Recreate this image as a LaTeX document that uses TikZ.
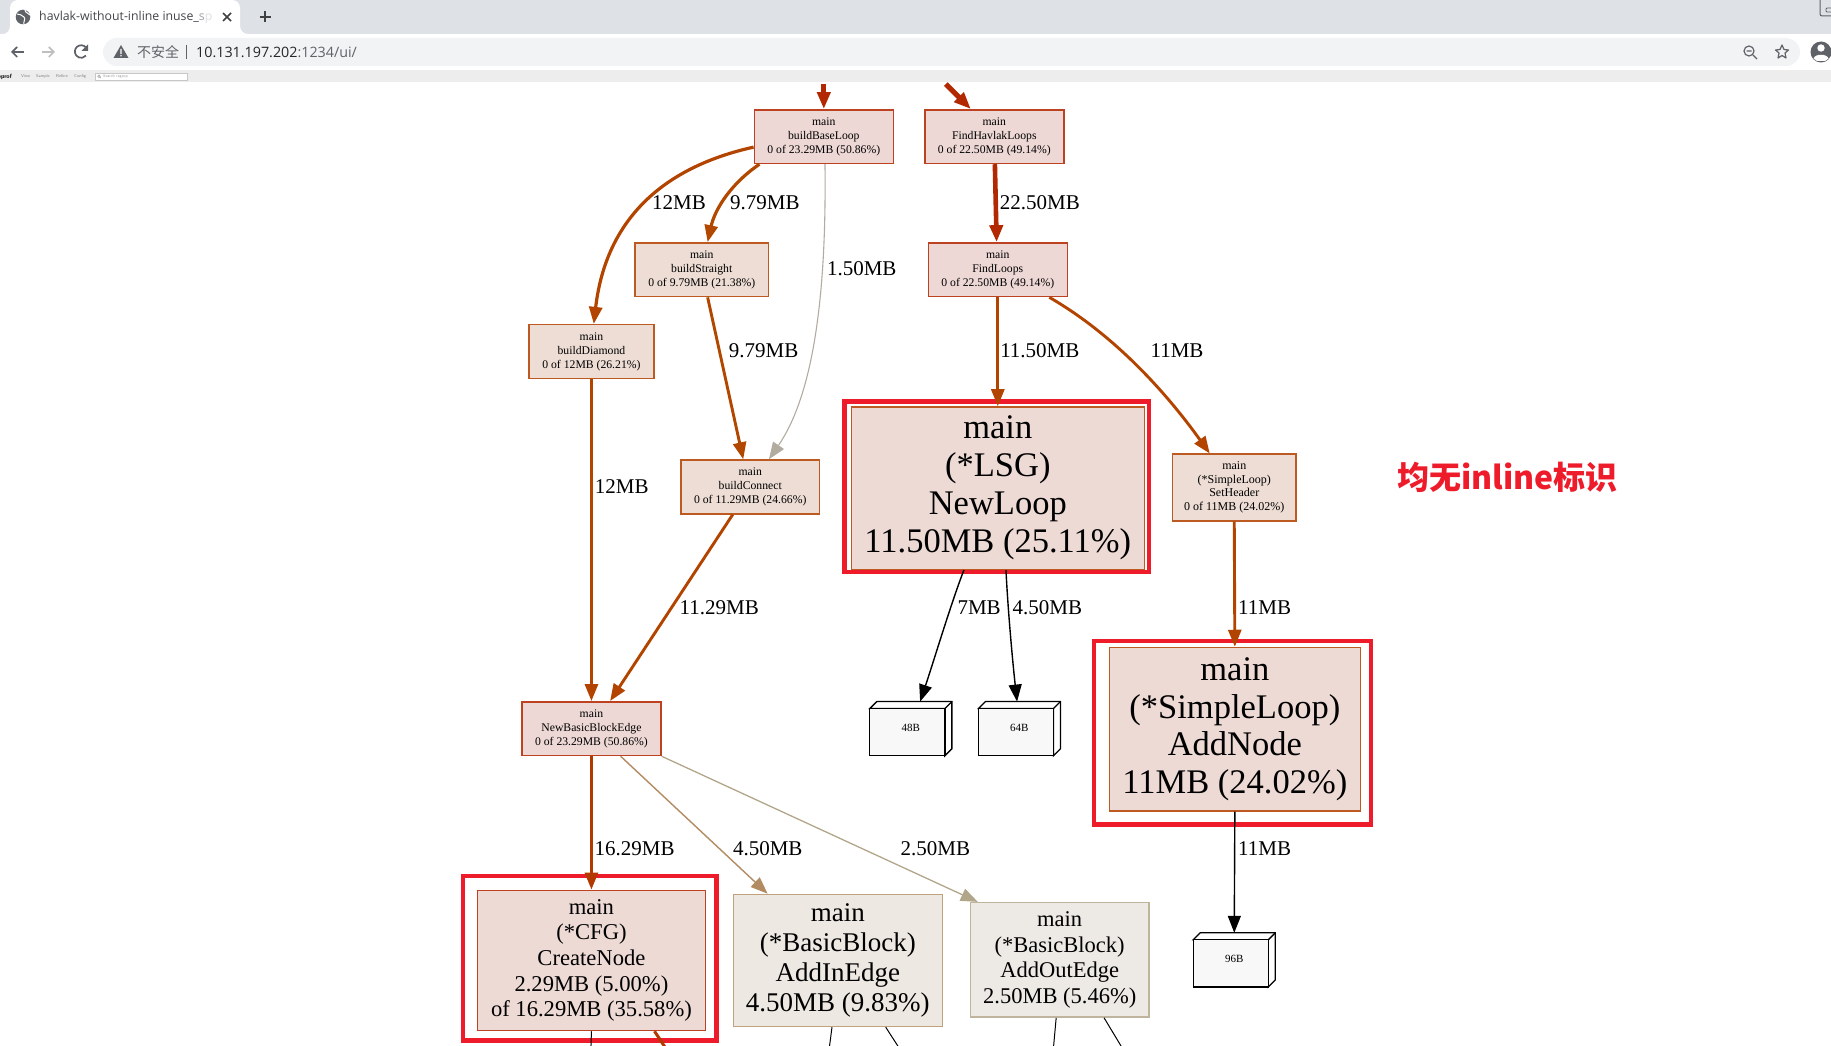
\documentclass[tikz,border=0pt]{standalone}
\usepackage{fontspec}
\setmainfont{Liberation Serif}
\newfontfamily\uifont{Open Sans}
\newfontfamily\cjkfont{Noto Sans CJK SC}
\usetikzlibrary{arrows.meta,calc}

\definecolor{tabbar}{HTML}{DEE1E6}
\definecolor{omnibox}{HTML}{F1F3F4}
\definecolor{chromegrey}{HTML}{5F6368}
\definecolor{markred}{HTML}{EE1C2B}
% Heat colours of the graph: edges, borders, then fills
\definecolor{heatA}{HTML}{B22800}
\definecolor{heatB}{HTML}{B23A00}
\definecolor{heatC}{HTML}{B24400}
\definecolor{heatD}{HTML}{B24800}
\definecolor{heatE}{HTML}{B28B62}
\definecolor{heatF}{HTML}{B2A68A}
\definecolor{heatG}{HTML}{B2ABA0}
\definecolor{edgeA}{HTML}{BC4222}
\definecolor{edgeC}{HTML}{BC5A22}
\definecolor{edgeE}{HTML}{C0A27C}
\definecolor{edgeF}{HTML}{BFB49E}
\definecolor{fillA}{HTML}{EDD8D5}
\definecolor{fillB}{HTML}{EDDAD5}
\definecolor{fillC}{HTML}{EDDDD5}
\definecolor{fillE}{HTML}{EDE8E2}
\definecolor{fillF}{HTML}{EDEAE6}
\definecolor{cubefill}{HTML}{F8F8F8}

\newcommand{\fsize}[2]{\fontsize{#1}{#2}\selectfont}
% Cube faces drawn around a named node; the front face sits low and to the left
\newcommand{\cubefaces}[1]{%
  \draw[cubeline,fill=white] (#1.north west) ++(0,6) -- ++(6,-6) -| ($(#1.south east)+(0,-6)$) -- ++(-6,6)
    |- cycle;
  \draw[cubeline,fill=cubefill] ($(#1.north west)+(0,6)$) rectangle ($(#1.south east)+(-6,0)$);
  \draw[cubeline] ($(#1.north east)+(-6,6)$) -- (#1.north east);
}

\tikzset{
  gbox/.style 2 args={draw,rectangle,align=center,inner sep=0pt,line width=1.5pt,
    minimum width=#1*1.1677pt,minimum height=#2*1.1677pt},
  small/.style={font=\fsize{11.7}{14}},
  marker/.style 2 args={draw=markred,rectangle,line width=4.5pt,inner sep=0pt,
    minimum width=#1*1.1677pt,minimum height=#2*1.1677pt},
  cube/.style={rectangle,inner sep=0pt,minimum width=70*1.1677pt,minimum height=46*1.1677pt,font=\fsize{11}{12}},
  cubeline/.style={draw=black,line width=1.3pt},
  elabel/.style={font=\fsize{21}{24},inner sep=0pt},
  flow/.style 2 args={draw=#1,line width=#2,-{Triangle[length=17pt,width=13pt]}},
  stub/.style 2 args={draw=#1,line width=#2},
  chromeicon/.style={draw=chromegrey,line width=1.7pt},
}

\begin{document}
\begin{tikzpicture}[x=1pt,y=-1pt]
\useasboundingbox (0,0) rectangle (1831,1046);
\clip (0,0) rectangle (1831,1046);

% Browser tab strip
\fill[tabbar] (0,0) rectangle (1831,34);
\fill[white] (0,34) -- (3,34) to[out=0,in=270] (10,26) -- (10,8) to[out=90,in=180] (18,0) -- (232,0)
  to[out=0,in=90] (240,8) -- (240,26) to[out=270,in=180] (248,34) -- cycle;
\node[anchor=west,inner sep=0pt,text=chromegrey!70!black,font=\uifont\fsize{12.3}{15}] (tabtitle) at (39,17.5)
  {havlak-without-inline inuse\_{\color{chromegrey!60}s}{\color{chromegrey!20}p}};
\fill[chromegrey] (23,17) circle (7.3);
\draw[white,line width=1pt] (17,14) .. controls (20,13) and (21,16) .. (24,17) .. controls (26,19) and (23,22) .. (24,24);
\draw[white,line width=1pt] (25,10) .. controls (25,13) and (29,13) .. (30,15);
\draw[black!75,line width=1.6pt] (223,13) -- (231,21) (231,13) -- (223,21);
\draw[black!75,line width=1.6pt] (259.5,17) -- (270.5,17) (265,11.5) -- (265,22.5);
\draw[chromegrey,line width=1pt,rounded corners=2pt] (1832,16) -- (1820,16) -- (1820,0);
\draw[chromegrey,line width=.8pt,rounded corners=1pt] (1832,8) -- (1826,8) -- (1826,12) -- (1832,12);

% Toolbar and address field
\fill[white] (0,34) rectangle (1831,70);
\fill[omnibox,rounded corners=14pt] (103,38) rectangle (1800,66);
\draw[chromeicon,-{Straight Barb[length=5pt,width=10pt]}] (24,52) -- (11,52);
\draw[chromeicon,draw=black!25,-{Straight Barb[length=5pt,width=10pt]}] (42,52) -- (55,52);
\draw[chromeicon] (86,47.5) arc[start angle=-40,end angle=-320,radius=6.3];
\fill[chromegrey] (88,44.5) -- (88,51) -- (81.5,51) -- cycle;
\fill[chromegrey] (121,45) -- (128.5,58) -- (113.5,58) -- cycle;
\fill[white] (120.4,49) rectangle (121.6,54) (120.4,55) rectangle (121.6,56.5);
\node[anchor=west,inner sep=0pt,text=chromegrey,font=\cjkfont\fsize{14}{16}] (insecure) at (137,52) {不安全};
\draw[chromegrey,line width=.8pt] (186,45) -- (186,59);
\node[anchor=west,inner sep=0pt,font=\uifont\fsize{14.3}{16}] (address) at (196,52.5)
  {\color{black!85}10.131.197.202\color{chromegrey}:1234/ui/};
\draw[chromegrey,line width=1.2pt] (1749,51) circle (5);
\draw[chromegrey,line width=1.2pt] (1746.5,51) -- (1751.5,51) (1753,55) -- (1757,59);
\draw[chromegrey,line width=1.2pt,line join=round] (1782,45) -- (1784,49.5) -- (1788.5,50) -- (1785,53) -- (1786,58)
  -- (1782,55.5) -- (1778,58) -- (1779,53) -- (1775.5,50) -- (1780,49.5) -- cycle;
\fill[chromegrey] (1821,52) circle (10.5);
\fill[white] (1821,48) circle (3.7);
\fill[white] (1813.5,58.5) .. controls (1815,53.5) and (1827,53.5) .. (1828.5,58.5) -- (1825,61) -- (1817,61) -- cycle;

% Page menu bar
\draw[black!15,line width=.8pt] (0,70) -- (1831,70);
\fill[black!7] (0,70.4) rectangle (1831,82);
\node[anchor=west,inner sep=0pt,font=\sffamily\bfseries\fsize{6}{7}] (brand) at (-2.5,76.5) {pprof};
\foreach \mx/\mt in {21/View,36/Sample,56/Refine,74/Config}
  \node[anchor=west,inner sep=0pt,text=black!50,font=\sffamily\fsize{4.2}{5}] at (\mx,76.5) {\mt};
\draw[black!22,fill=white,line width=.6pt] (95,73) rectangle (187,80.5);
\draw[black!45,line width=.4pt] (99,76.2) circle (1.3) (100,77.2) -- (101,78.2);
\node[anchor=west,inner sep=0pt,text=black!40,font=\sffamily\fsize{4}{5}] (searchbox) at (103,76.8) {Search regexp};

% Call graph, placed on a 1568-wide grid
\begin{scope}[x=1.1677pt,y=-1.1677pt]
  % Red highlight frames
  \node[marker={261}{146}] (frameloop) at (853.5,417) {};
  \node[marker={237}{157}] (framenode) at (1055.5,627.5) {};
  \node[marker={217}{141}] (framecfg) at (505,820.5) {};

  % Function boxes
  \node[gbox={119}{46},small,draw=edgeA,fill=fillA] (bbl) at (705.5,117)
    {main\\buildBaseLoop\\0 of 23.29MB (50.86\%)};
  \node[gbox={119}{46},small,draw=edgeA,fill=fillA] (havlak) at (851.5,117)
    {main\\FindHavlakLoops\\0 of 22.50MB (49.14\%)};
  \node[gbox={114}{46},small,draw=edgeC,fill=fillC] (straight) at (601,231)
    {main\\buildStraight\\0 of 9.79MB (21.38\%)};
  \node[gbox={119}{46},small,draw=edgeA,fill=fillA] (findloops) at (854.5,231)
    {main\\FindLoops\\0 of 22.50MB (49.14\%)};
  \node[gbox={107}{46},small,draw=edgeC,fill=fillC] (diamond) at (506.5,301)
    {main\\buildDiamond\\0 of 12MB (26.21\%)};
  \node[gbox={119}{46},small,draw=edgeC,fill=fillC] (connect) at (642.5,417)
    {main\\buildConnect\\0 of 11.29MB (24.66\%)};
  \node[gbox={251}{139},draw=edgeC,fill=fillB,font=\fsize{34.5}{38}] (newloop) at (854.5,418)
    {main\\(*LSG)\\NewLoop\\11.50MB (25.11\%)};
  \node[gbox={106}{57},font=\fsize{12}{13.5},draw=edgeC,fill=fillC] (setheader) at (1057,417.5)
    {main\\(*SimpleLoop)\\SetHeader\\0 of 11MB (24.02\%)};
  \node[gbox={215}{140},draw=edgeC,fill=fillB,font=\fsize{34.5}{37.5}] (addnode) at (1057.5,624.5)
    {main\\(*SimpleLoop)\\AddNode\\11MB (24.02\%)};
  \node[gbox={119}{46},small,draw=edgeA,fill=fillA] (nbbe) at (506.5,624)
    {main\\NewBasicBlockEdge\\0 of 23.29MB (50.86\%)};
  \node[gbox={195}{120},draw=edgeA,fill=fillB,font=\fsize{22.6}{25.7}] (cfg) at (506.5,822.5)
    {main\\(*CFG)\\CreateNode\\2.29MB (5.00\%)\\of 16.29MB (35.58\%)};
  \node[gbox={179}{113},draw=edgeE,fill=fillE,font=\fsize{27}{30}] (inedge) at (717.5,822.5)
    {main\\(*BasicBlock)\\AddInEdge\\4.50MB (9.83\%)};
  \node[gbox={153}{98},draw=edgeF,fill=fillF,font=\fsize{22.5}{25.5}] (outedge) at (907.5,822)
    {main\\(*BasicBlock)\\AddOutEdge\\2.50MB (5.46\%)};

  % Leaf cubes
  \node[cube] (bytesA) at (780,624) {};
  \node[cube] (bytesB) at (873,624) {};
  \node[cube] (bytesC) at (1057,822) {};
  \cubefaces{bytesA}
  \cubefaces{bytesB}
  \cubefaces{bytesC}
  \node[cube] at ($(bytesA)+(0,-1)$) {48B};
  \node[cube] at ($(bytesB)+(0,-1)$) {64B};
  \node[cube] at ($(bytesC)+(0,-1)$) {96B};

  % Free ends at the page edges
  \coordinate (intoBase) at (705.5,72);
  \coordinate (intoHavlak) at (810,72);
  \coordinate (outCfgA) at (506,899);
  \coordinate (outCfgB) at (571,899);
  \coordinate (outInA) at (710,899);
  \coordinate (outInB) at (771,899);
  \coordinate (outOutA) at (902,899);
  \coordinate (outOutB) at (962,899);

  % Calls
  \draw[flow={heatA}{5pt}] (intoBase) -- (bbl.north);
  \draw[flow={heatA}{5pt}] (intoHavlak) -- ($(havlak.north west)+(40,0)$);
  \draw[flow={heatC}{3.2pt}] (bbl.west |- 0,126) .. controls (560,145) and (518,195) .. ($(diamond.north)+(2,0)$);
  \draw[flow={heatD}{3.2pt}] ($(bbl.south west)+(5,0)$) .. controls (625,158) and (612,180) .. ($(straight.north)+(5,0)$);
  \draw[flow={heatG}{1.1pt}] ($(bbl.south)+(1,0)$) .. controls (708,260) and (695,340) .. ($(connect.north)+(16,0)$);
  \draw[flow={heatD}{2.9pt}] ($(straight.south)+(5,0)$) -- ($(connect.north)+(-6,0)$);
  \draw[flow={heatA}{4.6pt}] ($(havlak.south)+(0.5,0)$) -- ($(findloops.north)+(-1,0)$);
  \draw[flow={heatC}{2.9pt}] (findloops.south) -- (newloop.north);
  \draw[flow={heatC}{2.9pt}] ($(findloops.south east)+(-16,0)$) .. controls (960,290) and (1005,345) .. ($(setheader.north)+(-21,0)$);
  \draw[flow={heatC}{2.9pt}] (diamond.south) -- (nbbe.north);
  \draw[flow={heatC}{2.9pt}] ($(connect.south)+(-15,0)$) -- ($(nbbe.north)+(16,0)$);
  \draw[flow={black}{1.4pt}] ($(newloop.south)+(-29,0)$) .. controls (815,515) and (800,565) .. ($(bytesA.north)+(8,0)$);
  \draw[flow={black}{1.4pt}] ($(newloop.south)+(7,0)$) .. controls (863,520) and (867,565) .. ($(bytesB.north)+(-2,0)$);
  \draw[flow={heatC}{2.9pt}] (setheader.south) -- (addnode.north);
  \draw[flow={black}{1.4pt}] (addnode.south) -- (bytesC.north);
  \draw[flow={heatB}{3pt}] (nbbe.south) -- (cfg.north);
  \draw[flow={heatE}{1.4pt}] ($(nbbe.south)+(25,0)$) -- ($(inedge.north west)+(30,0)$);
  \draw[flow={heatF}{1.3pt}] (nbbe.south east) -- ($(outedge.north west)+(7,0)$);
  \draw[stub={black}{1pt}] (cfg.south) -- (outCfgA);
  \draw[stub={heatB}{3pt}] ($(cfg.south)+(54,0)$) -- (outCfgB);
  \draw[stub={black}{1pt}] ($(inedge.south)+(-5,0)$) -- (outInA);
  \draw[stub={black}{1pt}] ($(inedge.south)+(41,0)$) -- (outInB);
  \draw[stub={black}{1pt}] ($(outedge.south)+(-3,0)$) -- (outOutA);
  \draw[stub={black}{1pt}] ($(outedge.south)+(38,0)$) -- (outOutB);

  % Edge weights
  \node[elabel] (lblA) at (581.5,173.5) {12MB};
  \node[elabel] (lblB) at (655,173.5) {9.79MB};
  \node[elabel] (lblC) at (890.5,173.5) {22.50MB};
  \node[elabel] (lblD) at (738,230) {1.50MB};
  \node[elabel] (lblE) at (654,300.5) {9.79MB};
  \node[elabel] (lblF) at (890.5,300.5) {11.50MB};
  \node[elabel] (lblG) at (1008,300.5) {11MB};
  \node[elabel] (lblH) at (532.5,417) {12MB};
  \node[elabel] (lblI) at (616,520.5) {11.29MB};
  \node[elabel] (lblJ) at (838.5,520.5) {7MB};
  \node[elabel] (lblK) at (897,520.5) {4.50MB};
  \node[elabel] (lblL) at (1083,520.5) {11MB};
  \node[elabel] (lblM) at (543.5,727) {16.29MB};
  \node[elabel] (lblN) at (657.5,727) {4.50MB};
  \node[elabel] (lblO) at (801,727) {2.50MB};
  \node[elabel] (lblP) at (1083,727) {11MB};

  % Annotation
  \node[text=markred,inner sep=0pt,font=\cjkfont\bfseries\fsize{32}{38}] (note) at (1291,409) {均无inline标识};
\end{scope}
\end{tikzpicture}
\end{document}
